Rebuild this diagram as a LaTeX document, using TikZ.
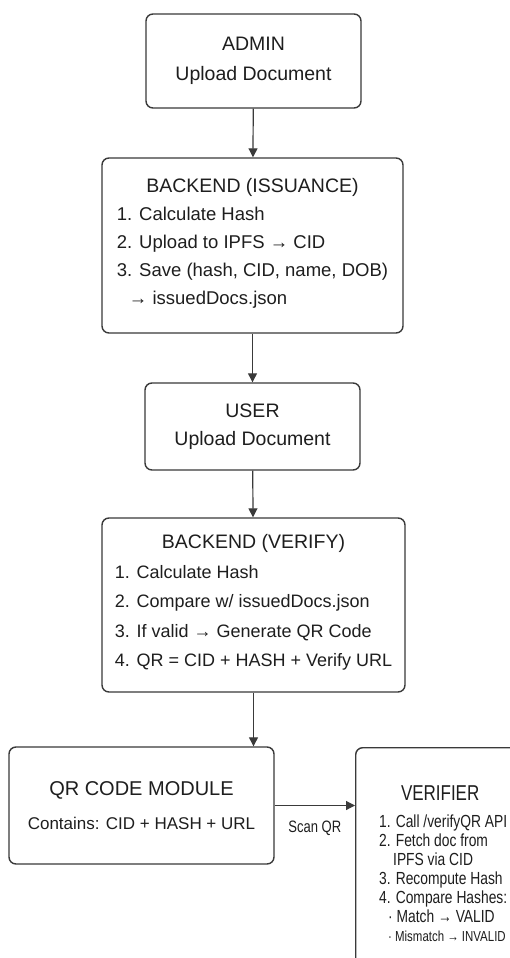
\documentclass[tikz,border=0pt]{standalone}
\usepackage{fontspec}
\setmainfont{Liberation Sans}
\newfontfamily\narrowsf[FakeStretch=0.79]{Liberation Sans}
\usetikzlibrary{arrows.meta,positioning}
\definecolor{boxline}{HTML}{3A3A3A}
\definecolor{boxtext}{HTML}{1E1E1E}

\begin{document}
\begin{tikzpicture}[x=1pt, y=-1pt,
    box/.style={draw=boxline, line width=1.4pt, rounded corners=7pt,
      fill=white, text=boxtext, align=center, inner sep=0pt},
    flow/.style={draw=boxline, line width=1.2pt,
      -{Triangle[length=9pt, width=9pt]}},
  ]

  % Page frame, also cuts the verifier box at the edges
  \clip (0,0) rectangle (510,958);
  \fill[white] (0,0) rectangle (510,958);

  % Issuance side
  \node[box, minimum width=215, minimum height=94,
    font=\fontsize{19.5}{30}\selectfont] (admin) at (253.5,61)
    {ADMIN\\Upload Document};
  \node[box, minimum width=301, minimum height=175,
    font=\fontsize{18.5}{28}\selectfont] (issue) at (252.5,245.5)
    {{\fontsize{19.5}{28}\selectfont BACKEND (ISSUANCE)}\\
     \begin{tabular}[t]{@{}l@{}}
       1. Calculate Hash\\
       2. Upload to IPFS → CID\\
       3. Save (hash, CID, name, DOB)\\
       \hspace*{12pt}→ issuedDocs.json
     \end{tabular}};

  % Verification side
  \node[box, minimum width=215, minimum height=87,
    font=\fontsize{19.5}{28}\selectfont] (user) at (252.5,426.5)
    {USER\\Upload Document};
  \node[box, minimum width=303, minimum height=174,
    font=\fontsize{18}{29.5}\selectfont] (verify) at (253.5,605)
    {{\fontsize{19.5}{28}\selectfont BACKEND (VERIFY)}\\
     \begin{tabular}[t]{@{}l@{}}
       1. Calculate Hash\\
       2. Compare w/ issuedDocs.json\\
       3. If valid → Generate QR Code\\
       4. QR = CID + HASH + Verify URL
     \end{tabular}};

  \node[box, minimum width=265, minimum height=117,
    font=\fontsize{17}{34}\selectfont] (qr) at (141.5,805.5)
    {{\fontsize{20}{24}\selectfont QR CODE MODULE}\\
     Contains: CID + HASH + URL};

  % Verifier runs off the page on the right and at the bottom
  \node[box, anchor=north west, align=left, inner xsep=9pt,
    inner ysep=38pt, minimum width=175,
    font=\narrowsf\fontsize{17.5}{19}\selectfont] (verifier) at (355,747)
    {\makebox[122pt]{\fontsize{21.5}{24}\selectfont VERIFIER}\\[8pt]
     1. Call /verifyQR API\\
     2. Fetch doc from\\
     \hspace*{14pt}IPFS via CID\\
     3. Recompute Hash\\
     4. Compare Hashes:\\
     \hspace*{9pt}· Match → VALID\\
     \hspace*{9pt}{\fontsize{14.5}{19}\selectfont · Mismatch → INVALID}};

  % Connectors
  \draw[flow] (admin) -- (issue);
  \draw[flow] (issue) -- (user);
  \draw[flow] (user) -- (verify);
  \draw[flow] (verify) -- (qr.north -| verify.south);
  \draw[flow] (qr.east) -- (qr.east -| verifier.west)
    node[midway, below=12pt, text=boxtext,
      font=\narrowsf\fontsize{16.5}{18}\selectfont] {Scan QR};
\end{tikzpicture}
\end{document}
